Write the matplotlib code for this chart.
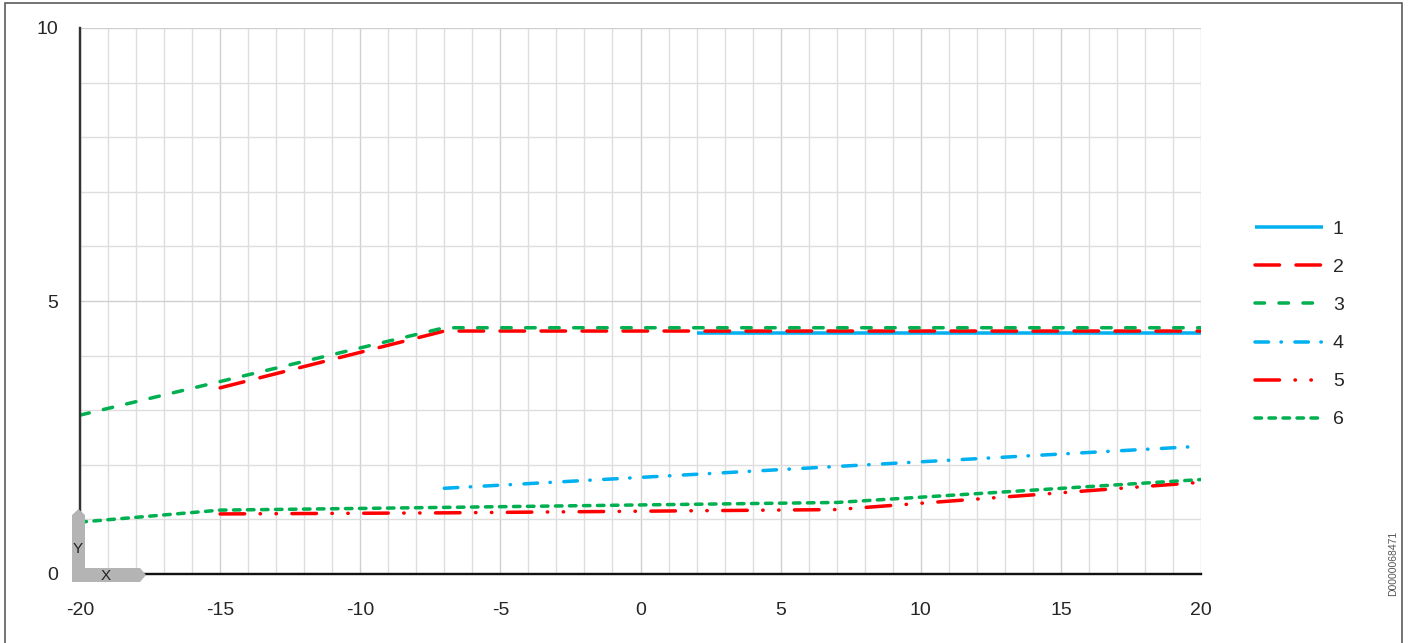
import matplotlib
matplotlib.use("Agg")
import matplotlib.pyplot as plt
from matplotlib.patches import Polygon, Rectangle
from matplotlib.transforms import Affine2D, ScaledTranslation

plt.rcParams['font.family'] = ['Liberation Sans', 'DejaVu Sans']
plt.rcParams['lines.scale_dashes'] = False

# ---------------- data ----------------
labels = ["1", "2", "3", "4", "5", "6"]

s1_x = [2, 20]
s1_y = [4.41, 4.41]

s2_x = [-15, -7, 20]
s2_y = [3.41, 4.45, 4.45]

s3_x = [-20, -7, 20]
s3_y = [2.91, 4.51, 4.51]

s4_x = [-7, 20]
s4_y = [1.57, 2.34]

s5_x = [-15, -7, 7, 20]
s5_y = [1.10, 1.12, 1.18, 1.68]

s6_x = [-20, -15, -7, 7, 20]
s6_y = [0.95, 1.17, 1.22, 1.31, 1.73]

x_ticks = [-20, -15, -10, -5, 0, 5, 10, 15, 20]
y_ticks = [0, 5, 10]

# ---------------- style ----------------
BLUE = "#00B0F0"
RED = "#FF0000"
GREEN = "#00B050"
PX = 72.0 / 100.0          # points per pixel at dpi 100
LWPX = 3.5
LW = LWPX * PX


def dash(*px):
    # visible lengths in px -> (on, off...) in points with round caps
    out = []
    for i, v in enumerate(px):
        if i % 2 == 0:
            out.append(max(v - LWPX, 0.4) * PX)
        else:
            out.append((v + LWPX) * PX)
    return (0, tuple(out))


styles = [
    dict(color=BLUE, linestyle='-'),
    dict(color=RED, linestyle=dash(28, 13)),
    dict(color=GREEN, linestyle=dash(13, 11)),
    dict(color=BLUE, linestyle=dash(17, 9, 3.5, 10)),
    dict(color=RED, linestyle=dash(28, 12, 3.5, 12, 3.5, 12)),
    dict(color=GREEN, linestyle=dash(10, 4)),
]

series = [(s1_x, s1_y), (s2_x, s2_y), (s3_x, s3_y),
          (s4_x, s4_y), (s5_x, s5_y), (s6_x, s6_y)]

fig = plt.figure(figsize=(14.10, 6.43), dpi=100)
ax = fig.add_axes([80 / 1410, 1 - 574 / 643, (1201 - 80) / 1410, (574 - 28) / 643])

handles = []
for (xs, ys), st, lab in zip(series, styles, labels):
    h, = ax.plot(xs, ys, linewidth=LW, solid_capstyle='butt',
                 dash_capstyle='round', label=lab, zorder=3, **st)
    handles.append(h)

ax.set_xlim(-20, 20)
ax.set_ylim(0, 10)
ax.set_xticks(x_ticks)
ax.set_xticks(range(-20, 21), minor=True)
ax.set_yticks(y_ticks)
ax.set_yticks(range(0, 11), minor=True)
ax.set_xticklabels([str(v) for v in x_ticks])
ax.set_yticklabels([str(v) for v in y_ticks])
ax.tick_params(which='both', length=0)
ax.tick_params(axis='x', pad=20, labelsize=14, labelcolor='#262626')
ax.tick_params(axis='y', pad=16, labelsize=14, labelcolor='#262626')
ax.grid(which='minor', color='#DEDEDE', linewidth=1.4 * PX)
ax.grid(which='major', color='#D0D0D0', linewidth=1.4 * PX)
ax.set_axisbelow(True)

for side in ['top', 'right']:
    ax.spines[side].set_visible(False)
ax.spines['left'].set_color('#333333')
ax.spines['left'].set_linewidth(2.4 * PX)
ax.spines['bottom'].set_color('#111111')
ax.spines['bottom'].set_linewidth(2.4 * PX)
ax.spines['left'].set_zorder(5)
ax.spines['bottom'].set_zorder(5)

# X / Y corner icon (pixel offsets from the axes origin, y downward)
pix = Affine2D().scale(1, -1) + ScaledTranslation(-20, 0, ax.transData)
icon = [(-8, 8), (-8, -59), (-1.5, -65), (5, -59), (5, -6),
        (60, -6), (66, 1), (60, 8)]
ax.add_patch(Polygon(icon, closed=True, transform=pix, facecolor='#B4B4B4',
                     edgecolor='none', clip_on=False, zorder=6))
ax.text(-2, -25, "Y", transform=pix, fontsize=11, color='#222222',
        ha='center', va='center', zorder=7, clip_on=False)
ax.text(26, 2, "X", transform=pix, fontsize=11, color='#222222',
        ha='center', va='center', zorder=7, clip_on=False)

# legend
fig.legend(handles=handles, labels=labels, loc='center left',
           bbox_to_anchor=(1255 / 1410, 1 - 324.5 / 643), frameon=False,
           fontsize=14, handlelength=3.5, handletextpad=0.5,
           labelspacing=1.05, borderpad=0, borderaxespad=0,
           labelcolor='#262626')

# document id
fig.text(1393 / 1410, 1 - 563 / 643, "D0000068471", rotation=90,
         fontsize=7.5, color='#555555', ha='center', va='center')

# outer frame
fig.patches.append(Rectangle((5 / 1410, -0.05), (1402 - 5) / 1410, 1.05 - 3 / 643,
                             transform=fig.transFigure, fill=False,
                             edgecolor='#555555', linewidth=1.6 * PX))

fig.savefig("out.png", dpi=100)
